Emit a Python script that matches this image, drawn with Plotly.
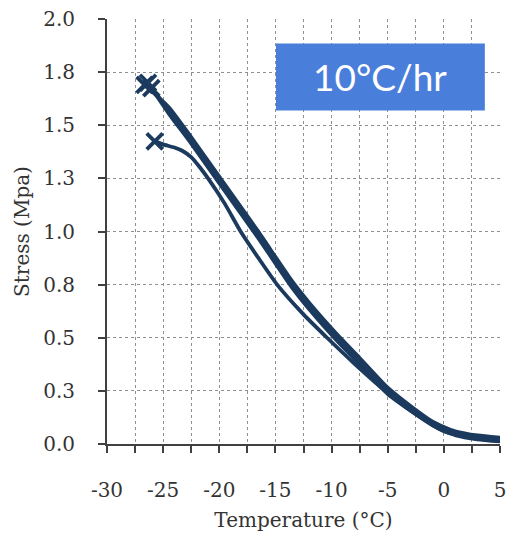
import plotly.graph_objects as go

# ---- data ----
temp_a = [5, 3, 1, 0, -1, -2.5, -5, -7.5, -9.5, -12, -13.5, -16.6, -20.1, -22.65, -24.5, -26.65]
stress_a = [0.03, 0.04, 0.06, 0.08, 0.105, 0.16, 0.265, 0.405, 0.515, 0.665, 0.765, 1.005, 1.265, 1.455, 1.585, 1.69]

temp_b = [5, 3, 1, 0, -1, -2.5, -5, -7.5, -9.5, -12, -13.5, -16.6, -20.1, -22.65, -24.5, -26.05]
stress_b = [0.012, 0.022, 0.042, 0.062, 0.088, 0.14, 0.235, 0.375, 0.485, 0.635, 0.735, 0.975, 1.235, 1.425, 1.555, 1.675]

temp_c = [5, 3, 1, 0, -1, -2.5, -5, -7.5, -9.5, -12, -13.5, -16.6, -20.1, -22.65, -24.5, -26.35]
stress_c = [0.02, 0.03, 0.05, 0.07, 0.097, 0.15, 0.25, 0.39, 0.50, 0.65, 0.75, 0.99, 1.25, 1.44, 1.57, 1.70]

temp_d = [5, 2.5, 0, -2.5, -5, -8, -10.4, -12.5, -14.85, -16.55, -18.1, -19.5, -21.0, -21.7, -22.5, -23.3, -24.0, -25.0, -25.75]
stress_d = [0.015, 0.03, 0.06, 0.14, 0.24, 0.38, 0.50, 0.61, 0.75, 0.878, 1.00, 1.13, 1.25, 1.30, 1.35, 1.38, 1.395, 1.41, 1.424]

series = [(temp_a, stress_a), (temp_b, stress_b), (temp_c, stress_c), (temp_d, stress_d)]

x_tickvals = [-30, -25, -20, -15, -10, -5, 0, 5]
x_ticktext = ["-30", "-25", "-20", "-15", "-10", "-5", "0", "5"]
y_tickvals = [0, 0.25, 0.5, 0.75, 1.0, 1.25, 1.5, 1.75, 2.0]
y_ticktext = ["0.0", "0.3", "0.5", "0.8", "1.0", "1.3", "1.5", "1.8", "2.0"]

line_color = "#1B3A5E"
grid_color = "#8f8f8f"
text_color = "#333333"
serif = "DejaVu Serif"
fs = 20

fig = go.Figure()
for t, s in series:
    fig.add_trace(go.Scatter(x=t, y=s, mode="lines",
                             line=dict(color=line_color, width=3.8, shape="spline", smoothing=0.5),
                             showlegend=False, hoverinfo="skip"))
fig.add_trace(go.Scatter(x=[t[-1] for t, s in series], y=[s[-1] for t, s in series],
                         mode="markers",
                         marker=dict(symbol="x-thin", size=16, line=dict(color=line_color, width=3.8)),
                         showlegend=False, hoverinfo="skip"))

fig.update_layout(
    width=507, height=536,
    margin=dict(l=107, r=7, t=19, b=92),
    paper_bgcolor="white", plot_bgcolor="white",
    font=dict(family=serif, size=fs, color=text_color),
    xaxis=dict(
        range=[-30, 5], tickvals=x_tickvals, ticktext=x_ticktext, ticks="outside", ticklen=7,
        tickwidth=1.5, tickcolor="#404040", showline=True, linecolor="#404040", linewidth=2,
        showgrid=True, gridcolor=grid_color, griddash="dot", gridwidth=1,
        zeroline=False, ticklabelstandoff=20, ticklabeloverflow="allow", automargin=False,
        tickfont=dict(family=serif, size=fs, color=text_color),
        minor=dict(dtick=2.5, tick0=-30, showgrid=True, gridcolor=grid_color, griddash="dot",
                   ticks="outside", ticklen=7, tickwidth=1.5, tickcolor="#404040"),
        title=dict(text="Temperature (°C)", font=dict(family=serif, size=fs, color=text_color), standoff=12),
    ),
    yaxis=dict(
        range=[0, 2.0], tickvals=y_tickvals, ticktext=y_ticktext, ticks="outside", ticklen=7,
        tickwidth=1.5, tickcolor="#404040", showline=True, linecolor="#404040", linewidth=2,
        showgrid=True, gridcolor=grid_color, griddash="dot", gridwidth=1,
        zeroline=False, ticklabelstandoff=19, automargin=False,
        tickfont=dict(family=serif, size=fs, color=text_color),
        title=dict(text="Stress (Mpa)", font=dict(family=serif, size=fs, color=text_color), standoff=8),
    ),
)

fig.add_shape(type="rect", xref="x", yref="y", x0=-14.95, x1=3.65, y0=1.57, y1=1.885,
              fillcolor="#4A7EDB", line=dict(width=0), layer="above")
fig.add_annotation(x=-5.65, y=1.728, xref="x", yref="y", text="10°C/hr", showarrow=False,
                   font=dict(family="Lato", size=37, color="white"))

fig.write_html("out.html")
